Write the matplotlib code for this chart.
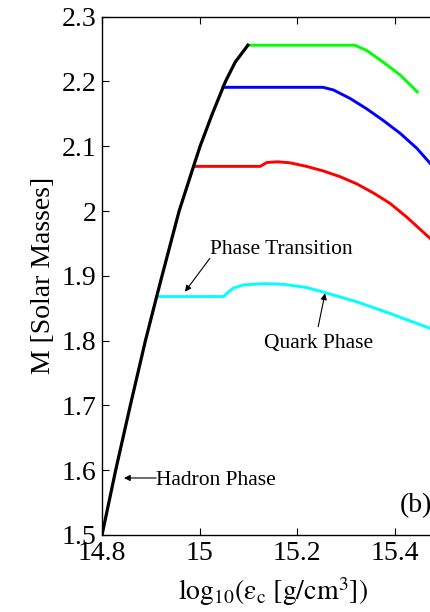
import numpy as np
import matplotlib
matplotlib.use("Agg")
import matplotlib.pyplot as plt

plt.rcParams['font.family'] = ['Liberation Serif', 'DejaVu Serif']
plt.rcParams['mathtext.fontset'] = 'stix'

# hadron branch (shared by all curves)
x_hadron = [14.8, 14.828, 14.858, 14.889, 14.912, 14.923, 14.958, 14.988, 15.001, 15.026, 15.053, 15.073, 15.099]
m_hadron = [1.5, 1.6, 1.7, 1.8, 1.868, 1.9, 2.0, 2.07, 2.1, 2.15, 2.2, 2.23, 2.256]

# hybrid branches
x_cyan = [14.912, 15.049, 15.056, 15.069, 15.090, 15.131, 15.172, 15.219, 15.253, 15.322, 15.390, 15.472]
m_cyan = [1.868, 1.868, 1.873, 1.881, 1.886, 1.888, 1.887, 1.882, 1.875, 1.860, 1.842, 1.819]

x_red = [14.988, 15.124, 15.138, 15.161, 15.185, 15.219, 15.253, 15.288, 15.322, 15.356, 15.390, 15.424, 15.472]
m_red = [2.069, 2.069, 2.075, 2.076, 2.0745, 2.069, 2.062, 2.053, 2.042, 2.028, 2.012, 1.991, 1.958]

x_blue = [15.048, 15.253, 15.274, 15.308, 15.342, 15.376, 15.411, 15.445, 15.472]
m_blue = [2.191, 2.191, 2.187, 2.174, 2.158, 2.140, 2.120, 2.097, 2.074]

x_green = [15.099, 15.318, 15.342, 15.376, 15.411, 15.446]
m_green = [2.256, 2.256, 2.248, 2.230, 2.210, 2.184]

fig = plt.figure(figsize=(4.3, 6.12), dpi=100)
ax = fig.add_axes([102 / 430, 77 / 612, 341.6 / 430, 518.3 / 612])

lw = 2.1
ax.plot(x_cyan, m_cyan, color='#00ffff', lw=lw)
ax.plot(x_red, m_red, color='#ff0000', lw=lw)
ax.plot(x_blue, m_blue, color='#0000ff', lw=lw)
ax.plot(x_green, m_green, color='#00ff00', lw=lw)
ax.plot(x_hadron, m_hadron, color='black', lw=lw + 0.2)

ax.set_xlim(14.8, 15.5)
ax.set_ylim(1.5, 2.3)
ax.set_xticks([14.8, 15.0, 15.2, 15.4])
ax.set_xticklabels(['14.8', '15', '15.2', '15.4'])
ax.set_yticks([1.5, 1.6, 1.7, 1.8, 1.9, 2.0, 2.1, 2.2, 2.3])
ax.set_yticklabels(['1.5', '1.6', '1.7', '1.8', '1.9', '2', '2.1', '2.2', '2.3'])
ax.tick_params(direction='in', top=True, right=True, length=5, width=0.8,
               labelsize=20, pad=4)
for s in ax.spines.values():
    s.set_linewidth(1.0)

ax.set_xlabel(r'$\mathrm{log}_{10}(\mathrm{ε}_{\mathrm{c}}\ \mathrm{[g/cm}^{3}\mathrm{])}$',
              fontsize=20, labelpad=7)
ax.set_ylabel('M [Solar Masses]', fontsize=20)

arrow = dict(arrowstyle='-|>', color='black', lw=0.8, mutation_scale=9, shrinkA=0, shrinkB=0)

# annotations
ax.text(15.021, 1.9336, 'Phase Transition', fontsize=15.5, ha='left', va='baseline')
ax.annotate('', xy=(14.970, 1.8755), xytext=(15.021, 1.927), arrowprops=arrow)

ax.text(15.243, 1.7886, 'Quark Phase', fontsize=15.5, ha='center', va='baseline')
ax.annotate('', xy=(15.257, 1.873), xytext=(15.243, 1.8215), arrowprops=arrow)

ax.text(14.910, 1.577, 'Hadron Phase', fontsize=15.5, ha='left', va='baseline')
ax.annotate('', xy=(14.845, 1.588), xytext=(14.911, 1.588), arrowprops=arrow)

ax.text(15.411, 1.536, '(b)', fontsize=20, ha='left', va='baseline')

fig.savefig('out.png', dpi=100)
